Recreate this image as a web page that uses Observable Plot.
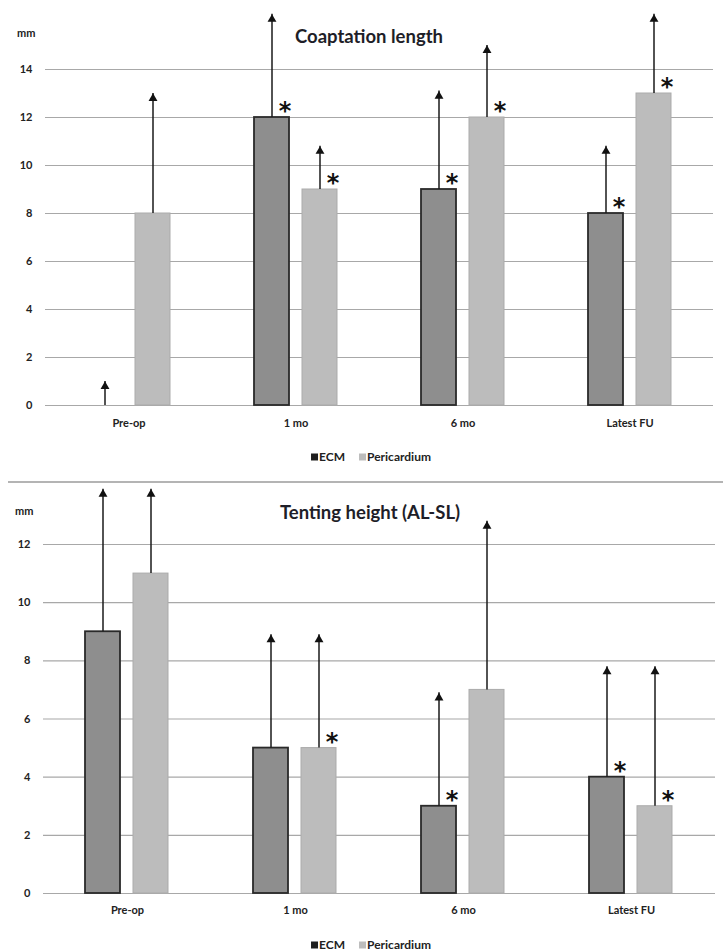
<!DOCTYPE html>
<html>
<head>
<meta charset="utf-8">
<script src="https://cdn.jsdelivr.net/npm/d3@7"></script>
<script src="https://cdn.jsdelivr.net/npm/@observablehq/plot@0.6"></script>
<style>
  html, body { margin: 0; padding: 0; background: #fff; }
  #wrap { position: relative; width: 723px; height: 952px; background: #fff; overflow: hidden; font-family: Lato, "Open Sans", sans-serif; color: #222; }
  .abs { position: absolute; }
  .title { font-weight: bold; font-size: 18.5px; color: #1e1e28; white-space: nowrap; transform: translate(-50%, -50%); }
  .mm { font-weight: bold; font-size: 11px; color: #222; }
  .legend { font-weight: bold; font-size: 12px; color: #222; white-space: nowrap; transform: translate(-50%, -50%); display: flex; align-items: center; gap: 4px; }
  .sw { display: inline-block; width: 7px; height: 7px; margin-right: 1px; }
  .sep { left: 8px; right: 0; height: 2px; background: #b4b4b4; }
</style>
</head>
<body>
<div id="wrap"></div>
<script>
// ---------- data ----------
const categories = ["Pre-op", "1 mo", "6 mo", "Latest FU"];
const seriesNames = ["ECM", "Pericardium"];

// Coaptation length (mm)
const coaptECM = [0, 12, 9, 8];
const coaptPeri = [8, 9, 12, 13];
const coaptECMUpper = [1, 16.3, 13.1, 10.8];
const coaptPeriUpper = [13, 10.8, 15, 16.3];
const coaptECMSig = [false, true, true, true];
const coaptPeriSig = [false, true, true, true];
const coaptTicks = [0, 2, 4, 6, 8, 10, 12, 14];

// Tenting height (AL-SL) (mm)
const tentECM = [9, 5, 3, 4];
const tentPeri = [11, 5, 7, 3];
const tentECMUpper = [13.9, 8.9, 6.9, 7.8];
const tentPeriUpper = [13.9, 8.9, 12.8, 7.8];
const tentECMSig = [false, false, true, true];
const tentPeriSig = [false, true, false, true];
const tentTicks = [0, 2, 4, 6, 8, 10, 12];

const ecmFill = "#8e8e8e", ecmStroke = "#2a2a2a";
const periFill = "#bcbcbc", periStroke = "#ababab";

function buildRows(ecm, peri, ecmUp, periUp, ecmSig, periSig) {
  const rows = [];
  categories.forEach((c, i) => {
    rows.push({cat: c, series: "ECM", v: ecm[i], up: ecmUp[i], sig: ecmSig[i]});
    rows.push({cat: c, series: "Pericardium", v: peri[i], up: periUp[i], sig: periSig[i]});
  });
  return rows;
}

function panel(rows, yMax, ticks, opts) {
  const fxy = {fx: "cat", x: "series"};
  return Plot.plot({
    width: 723,
    height: opts.height,
    marginTop: opts.marginTop,
    marginBottom: opts.marginBottom,
    marginLeft: opts.marginLeft,
    marginRight: opts.marginRight,
    style: {fontFamily: "Lato, 'Open Sans', sans-serif", color: "#222", background: "transparent", overflow: "visible"},
    fx: {domain: categories, padding: 0, label: null},
    x: {domain: seriesNames, paddingInner: 0.265, paddingOuter: 0.847, axis: null},
    y: {domain: [0, yMax], label: null},
    marks: [
      Plot.ruleY(ticks, {stroke: "#a8a8a8", strokeWidth: 1.2}),
      Plot.axisY(ticks, {tickSize: 0, tickPadding: 13, fontSize: 11, fontWeight: "bold", label: null}),
      Plot.axisFx({anchor: "bottom", tickSize: 0, tickPadding: opts.fxPad, fontSize: 11, fontWeight: "bold", label: null}),
      Plot.barY(rows.filter(d => d.series === "ECM" && d.v > 0), {...fxy, y: "v", fill: ecmFill, stroke: ecmStroke, strokeWidth: 1.8}),
      Plot.barY(rows.filter(d => d.series === "Pericardium" && d.v > 0), {...fxy, y: "v", fill: periFill, stroke: periStroke, strokeWidth: 1}),
      Plot.ruleX(rows, {...fxy, y1: "v", y2: "up", stroke: "#1a1a1a", strokeWidth: 1.5}),
      Plot.dot(rows, {...fxy, y: "up", symbol: "triangle", r: 3.3, fill: "#111", stroke: "none", dy: 5}),
      Plot.text(rows.filter(d => d.sig), {...fxy, y: "v", text: () => "*", dx: 13, dy: -6, fontSize: 24, fontWeight: "bold", fontFamily: "DejaVu Sans", fill: "#111"})
    ]
  });
}

const wrap = document.getElementById("wrap");

function addDiv(cls, html, style) {
  const d = document.createElement("div");
  d.className = "abs " + cls;
  d.innerHTML = html;
  Object.assign(d.style, style);
  wrap.appendChild(d);
  return d;
}

function legendHTML() {
  return `<span><span class="sw" style="background:#1e1e1e"></span>ECM</span>` +
         `<span style="margin-left:10px"><span class="sw" style="background:${periFill}"></span>Pericardium</span>`;
}

// ---------- top panel ----------
const topChart = panel(buildRows(coaptECM, coaptPeri, coaptECMUpper, coaptPeriUpper, coaptECMSig, coaptPeriSig), 14, coaptTicks,
  {height: 440, marginTop: 69, marginBottom: 35, marginLeft: 43, marginRight: 9, fxPad: 14});
topChart.style.position = "absolute"; topChart.style.left = "0px"; topChart.style.top = "0px";
wrap.appendChild(topChart);
addDiv("title", "Coaptation length", {left: "369px", top: "36px"});
addDiv("mm", "mm", {left: "17px", top: "26px"});
addDiv("legend", legendHTML(), {left: "371px", top: "456px"});
addDiv("sep", "", {top: "481px"});

// ---------- bottom panel ----------
const bottomChart = panel(buildRows(tentECM, tentPeri, tentECMUpper, tentPeriUpper, tentECMSig, tentPeriSig), 12, tentTicks,
  {height: 455, marginTop: 74, marginBottom: 32, marginLeft: 42, marginRight: 7, fxPad: 13});
bottomChart.style.position = "absolute"; bottomChart.style.left = "0px"; bottomChart.style.top = "470px";
wrap.appendChild(bottomChart);
addDiv("title", "Tenting height (AL-SL)", {left: "370px", top: "512px"});
addDiv("mm", "mm", {left: "15px", top: "504px"});
addDiv("legend", legendHTML(), {left: "371px", top: "944px"});
</script>
</body>
</html>
